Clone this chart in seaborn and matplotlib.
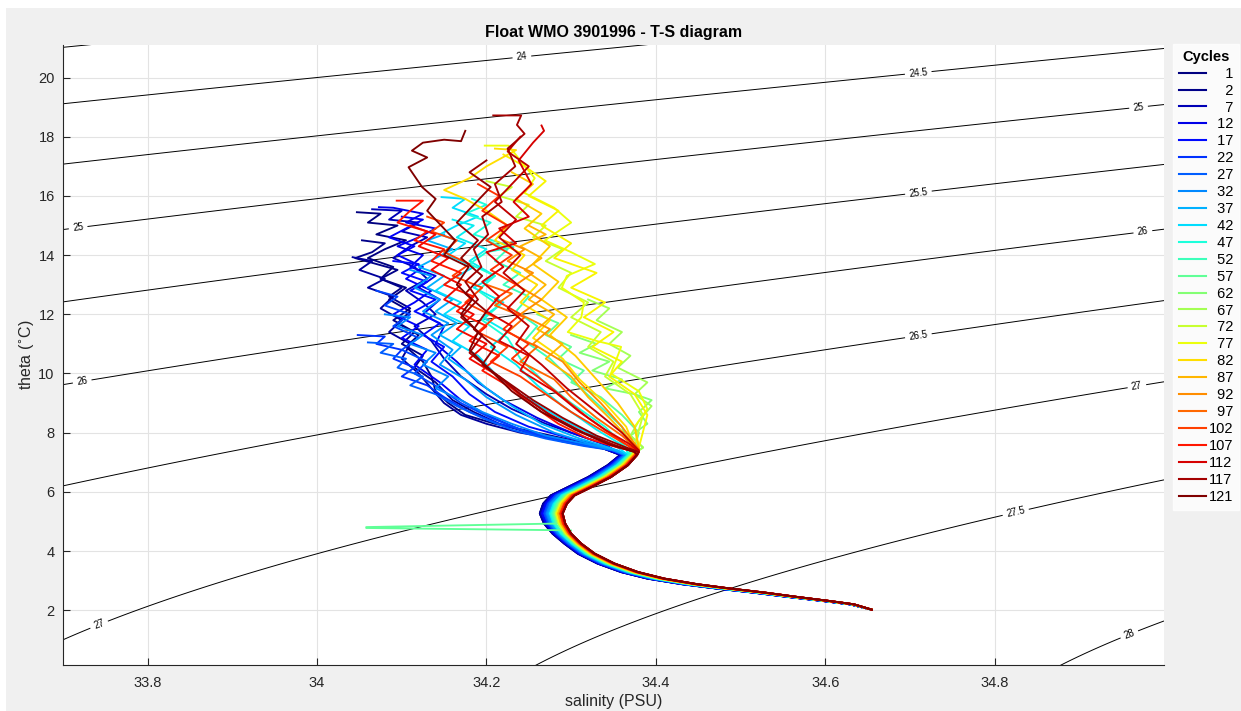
import numpy as np
import pandas as pd
import matplotlib
matplotlib.use("Agg")
import matplotlib.pyplot as plt
from matplotlib.lines import Line2D
from matplotlib.patches import Rectangle
import seaborn as sns

# -------------------- Data --------------------
legend_cycles = [1, 2, 7, 12, 17, 22, 27, 32, 37, 42, 47, 52, 57, 62, 67, 72, 77, 82, 87, 92, 97, 102, 107, 112, 117, 121]
extra_cycles = [4, 14, 24, 34, 44, 79, 84, 104, 109, 114, 119]   # drawn, not in the legend

# upper layer (surface -> ~7.5 degC), one path per cycle: salinity / theta
s_001 = [34.047, 34.075, 34.060, 34.095, 34.070, 34.105, 34.080, 34.060, 34.090, 34.075, 34.105, 34.085, 34.110, 34.095, 34.120, 34.105, 34.125, 34.135, 34.140, 34.155, 34.175, 34.210, 34.260, 34.300, 34.335]
t_001 = [15.45, 15.40, 15.10, 15.00, 14.70, 14.50, 14.20, 13.90, 13.60, 13.20, 12.90, 12.50, 12.10, 11.70, 11.30, 10.90, 10.40, 9.90, 9.40, 9.00, 8.60, 8.30, 8.00, 7.75, 7.50]
s_002 = [34.053, 34.080, 34.065, 34.045, 34.070, 34.095, 34.075, 34.100, 34.085, 34.110, 34.090, 34.115, 34.100, 34.125, 34.115, 34.140, 34.160, 34.185, 34.215, 34.250, 34.290, 34.330]
t_002 = [14.50, 14.40, 14.10, 13.90, 13.70, 13.50, 13.20, 12.90, 12.60, 12.20, 11.80, 11.40, 11.00, 10.60, 10.20, 9.70, 9.10, 8.70, 8.30, 8.00, 7.75, 7.55]
s_004 = [34.042, 34.065, 34.050, 34.080, 34.060, 34.090, 34.075, 34.100, 34.085, 34.110, 34.100, 34.120, 34.135, 34.150, 34.170, 34.200, 34.240, 34.290, 34.335]
t_004 = [13.93, 13.80, 13.50, 13.20, 12.90, 12.60, 12.20, 11.80, 11.40, 11.00, 10.50, 10.00, 9.50, 9.00, 8.60, 8.30, 8.00, 7.75, 7.50]
s_007 = [34.065, 34.100, 34.085, 34.120, 34.100, 34.130, 34.110, 34.090, 34.115, 34.130, 34.105, 34.125, 34.140, 34.115, 34.135, 34.150, 34.170, 34.200, 34.230, 34.270, 34.310, 34.340]
t_007 = [15.55, 15.50, 15.20, 15.10, 14.80, 14.60, 14.30, 13.90, 13.60, 13.20, 12.80, 12.40, 12.00, 11.60, 11.10, 10.50, 9.90, 9.30, 8.80, 8.30, 7.90, 7.60]
s_012 = [34.073, 34.090, 34.125, 34.105, 34.140, 34.120, 34.095, 34.125, 34.110, 34.140, 34.120, 34.145, 34.125, 34.150, 34.140, 34.165, 34.190, 34.220, 34.260, 34.300, 34.340]
t_012 = [15.62, 15.60, 15.40, 15.10, 14.90, 14.60, 14.30, 14.00, 13.60, 13.30, 12.90, 12.50, 12.00, 11.60, 11.00, 10.40, 9.70, 9.10, 8.50, 8.00, 7.60]
s_014 = [34.100, 34.125, 34.105, 34.085, 34.115, 34.095, 34.125, 34.105, 34.135, 34.115, 34.090, 34.120, 34.100, 34.130, 34.115, 34.145, 34.170, 34.200, 34.240, 34.290, 34.340]
t_014 = [15.30, 15.20, 14.90, 14.60, 14.30, 14.00, 13.60, 13.20, 12.80, 12.40, 12.00, 11.60, 11.20, 10.80, 10.30, 9.70, 9.10, 8.60, 8.10, 7.70, 7.45]
s_017 = [34.090, 34.120, 34.100, 34.130, 34.110, 34.140, 34.115, 34.145, 34.125, 34.150, 34.135, 34.160, 34.180, 34.210, 34.250, 34.300, 34.345]
t_017 = [13.80, 13.70, 13.40, 13.10, 12.80, 12.50, 12.10, 11.70, 11.30, 10.90, 10.40, 9.90, 9.30, 8.70, 8.20, 7.80, 7.50]
s_022 = [34.048, 34.080, 34.070, 34.100, 34.090, 34.115, 34.100, 34.130, 34.150, 34.180, 34.215, 34.260, 34.310, 34.345]
t_022 = [11.30, 11.25, 11.00, 10.80, 10.50, 10.20, 9.90, 9.60, 9.20, 8.70, 8.30, 7.95, 7.65, 7.45]
s_024 = [34.070, 34.095, 34.080, 34.110, 34.090, 34.120, 34.100, 34.130, 34.115, 34.145, 34.170, 34.205, 34.250, 34.300, 34.345]
t_024 = [12.80, 12.60, 12.30, 12.00, 11.60, 11.20, 10.80, 10.40, 10.00, 9.50, 9.00, 8.50, 8.00, 7.65, 7.45]
s_027 = [34.060, 34.090, 34.075, 34.105, 34.095, 34.125, 34.110, 34.140, 34.165, 34.195, 34.230, 34.270, 34.315, 34.350]
t_027 = [11.05, 11.00, 10.70, 10.50, 10.20, 9.90, 9.60, 9.30, 8.90, 8.50, 8.10, 7.80, 7.55, 7.40]
s_032 = [34.080, 34.110, 34.095, 34.125, 34.110, 34.140, 34.125, 34.155, 34.140, 34.170, 34.195, 34.230, 34.270, 34.320, 34.350]
t_032 = [12.00, 11.90, 11.60, 11.30, 11.00, 10.70, 10.30, 9.90, 9.50, 9.10, 8.70, 8.30, 7.90, 7.60, 7.40]
s_034 = [34.110, 34.135, 34.115, 34.145, 34.125, 34.155, 34.135, 34.160, 34.145, 34.175, 34.200, 34.235, 34.280, 34.325, 34.355]
t_034 = [13.50, 13.30, 12.90, 12.50, 12.10, 11.70, 11.30, 10.80, 10.30, 9.80, 9.20, 8.60, 8.00, 7.60, 7.40]
s_037 = [34.150, 34.130, 34.160, 34.140, 34.120, 34.150, 34.130, 34.160, 34.140, 34.165, 34.145, 34.170, 34.155, 34.180, 34.200, 34.230, 34.265, 34.310, 34.350]
t_037 = [14.70, 14.50, 14.20, 13.90, 13.60, 13.30, 12.90, 12.50, 12.10, 11.70, 11.30, 10.90, 10.50, 10.00, 9.50, 8.90, 8.30, 7.80, 7.45]
s_042 = [34.147, 34.175, 34.160, 34.190, 34.165, 34.145, 34.175, 34.155, 34.185, 34.160, 34.140, 34.170, 34.150, 34.180, 34.160, 34.190, 34.210, 34.240, 34.280, 34.320, 34.355]
t_042 = [15.96, 15.90, 15.60, 15.30, 15.00, 14.70, 14.40, 14.00, 13.60, 13.20, 12.80, 12.40, 12.00, 11.60, 11.10, 10.60, 10.00, 9.30, 8.60, 8.00, 7.50]
s_044 = [34.160, 34.185, 34.165, 34.200, 34.180, 34.210, 34.185, 34.220, 34.195, 34.225, 34.205, 34.235, 34.260, 34.290, 34.330, 34.365]
t_044 = [15.20, 15.00, 14.60, 14.20, 13.80, 13.30, 12.90, 12.40, 11.90, 11.40, 10.90, 10.30, 9.60, 8.90, 8.10, 7.50]
s_047 = [34.183, 34.200, 34.175, 34.205, 34.185, 34.232, 34.200, 34.180, 34.210, 34.190, 34.215, 34.195, 34.225, 34.240, 34.265, 34.300, 34.340, 34.365]
t_047 = [15.90, 15.70, 15.40, 15.10, 14.70, 14.27, 14.10, 13.70, 13.30, 12.80, 12.30, 11.80, 11.20, 10.50, 9.80, 9.00, 8.20, 7.50]
s_052 = [34.200, 34.225, 34.210, 34.240, 34.220, 34.250, 34.235, 34.260, 34.245, 34.275, 34.300, 34.330, 34.360, 34.370]
t_052 = [14.50, 14.20, 13.80, 13.40, 13.00, 12.60, 12.10, 11.60, 11.10, 10.50, 9.80, 9.00, 8.20, 7.50]
s_057 = [34.260, 34.285, 34.270, 34.300, 34.285, 34.315, 34.300, 34.335, 34.360, 34.380, 34.375]
t_057 = [12.00, 11.70, 11.30, 10.90, 10.50, 10.10, 9.70, 9.20, 8.60, 8.00, 7.50]
s_062 = [34.300, 34.330, 34.310, 34.345, 34.325, 34.360, 34.340, 34.375, 34.395, 34.380, 34.390, 34.370, 34.385]
t_062 = [11.30, 11.00, 10.70, 10.40, 10.10, 9.80, 9.50, 9.30, 9.10, 8.70, 8.30, 7.90, 7.50]
s_067 = [34.320, 34.345, 34.330, 34.360, 34.345, 34.370, 34.355, 34.390, 34.375, 34.395, 34.380, 34.370, 34.385]
t_067 = [12.50, 12.20, 11.80, 11.40, 11.00, 10.60, 10.20, 9.70, 9.30, 8.90, 8.40, 7.90, 7.50]
s_072 = [34.200, 34.230, 34.215, 34.250, 34.235, 34.270, 34.255, 34.290, 34.270, 34.300, 34.285, 34.320, 34.300, 34.335, 34.320, 34.350, 34.340, 34.370, 34.385, 34.375]
t_072 = [16.50, 16.30, 16.00, 15.70, 15.30, 15.00, 14.60, 14.20, 13.80, 13.40, 12.90, 12.40, 11.90, 11.40, 10.90, 10.40, 9.90, 9.30, 8.60, 7.60]
s_077 = [34.198, 34.226, 34.240, 34.257, 34.245, 34.280, 34.300, 34.269, 34.300, 34.328, 34.295, 34.289, 34.315, 34.312, 34.296, 34.330, 34.359, 34.347, 34.380, 34.390, 34.375, 34.380]
t_077 = [17.70, 17.70, 17.20, 16.60, 16.10, 15.60, 15.10, 14.50, 14.10, 13.70, 13.30, 12.90, 12.40, 11.90, 11.40, 11.10, 10.90, 10.00, 9.40, 8.80, 8.20, 7.50]
s_079 = [34.220, 34.245, 34.270, 34.250, 34.285, 34.265, 34.300, 34.280, 34.330, 34.300, 34.340, 34.315, 34.350, 34.325, 34.360, 34.345, 34.375, 34.390, 34.380]
t_079 = [17.40, 17.00, 16.50, 16.00, 15.50, 15.00, 14.40, 13.90, 13.40, 12.90, 12.40, 11.90, 11.40, 10.90, 10.40, 9.90, 9.30, 8.60, 7.50]
s_082 = [34.210, 34.235, 34.200, 34.180, 34.150, 34.175, 34.200, 34.225, 34.210, 34.245, 34.230, 34.260, 34.240, 34.275, 34.255, 34.290, 34.310, 34.340, 34.365, 34.375]
t_082 = [17.60, 17.55, 17.00, 16.60, 16.20, 15.90, 15.50, 15.00, 14.50, 14.00, 13.50, 13.00, 12.40, 11.80, 11.20, 10.50, 9.80, 9.00, 8.20, 7.50]
s_084 = [34.230, 34.255, 34.235, 34.265, 34.245, 34.275, 34.255, 34.285, 34.265, 34.295, 34.275, 34.305, 34.330, 34.355, 34.375, 34.380]
t_084 = [16.80, 16.40, 15.90, 15.40, 14.90, 14.30, 13.70, 13.10, 12.50, 11.90, 11.30, 10.60, 9.80, 9.00, 8.20, 7.45]
s_087 = [34.250, 34.270, 34.240, 34.265, 34.245, 34.270, 34.250, 34.280, 34.260, 34.290, 34.270, 34.300, 34.320, 34.345, 34.365, 34.380]
t_087 = [15.00, 14.70, 14.30, 13.90, 13.50, 13.00, 12.50, 12.00, 11.50, 11.00, 10.50, 9.90, 9.20, 8.50, 7.90, 7.40]
s_092 = [34.220, 34.245, 34.225, 34.255, 34.235, 34.265, 34.240, 34.275, 34.255, 34.290, 34.310, 34.335, 34.360, 34.380]
t_092 = [14.50, 14.20, 13.80, 13.40, 13.00, 12.50, 12.00, 11.50, 11.00, 10.40, 9.70, 9.00, 8.20, 7.45]
s_097 = [34.200, 34.230, 34.210, 34.245, 34.225, 34.260, 34.240, 34.280, 34.300, 34.330, 34.360, 34.380]
t_097 = [13.00, 12.70, 12.30, 11.90, 11.40, 10.90, 10.40, 9.80, 9.20, 8.50, 7.90, 7.40]
s_102 = [34.130, 34.150, 34.135, 34.165, 34.150, 34.180, 34.160, 34.195, 34.175, 34.210, 34.190, 34.225, 34.205, 34.240, 34.270, 34.300, 34.335, 34.365, 34.380]
t_102 = [15.30, 15.10, 14.80, 14.50, 14.10, 13.70, 13.30, 12.90, 12.40, 11.90, 11.40, 10.90, 10.40, 9.90, 9.30, 8.70, 8.10, 7.60, 7.40]
s_104 = [34.190, 34.215, 34.195, 34.225, 34.200, 34.230, 34.205, 34.235, 34.210, 34.240, 34.220, 34.250, 34.230, 34.260, 34.290, 34.320, 34.350, 34.375]
t_104 = [16.40, 16.00, 15.50, 15.00, 14.50, 14.00, 13.50, 13.00, 12.50, 12.00, 11.50, 11.00, 10.50, 9.90, 9.20, 8.50, 7.90, 7.40]
s_107 = [34.094, 34.125, 34.110, 34.095, 34.130, 34.115, 34.150, 34.135, 34.170, 34.150, 34.185, 34.165, 34.200, 34.180, 34.215, 34.195, 34.230, 34.255, 34.285, 34.320, 34.355, 34.380]
t_107 = [15.84, 15.84, 15.50, 15.10, 14.80, 14.50, 14.20, 13.80, 13.40, 13.00, 12.60, 12.10, 11.60, 11.10, 10.60, 10.10, 9.50, 8.90, 8.30, 7.80, 7.50, 7.35]
s_109 = [34.110, 34.140, 34.120, 34.155, 34.135, 34.170, 34.150, 34.185, 34.165, 34.200, 34.180, 34.215, 34.240, 34.270, 34.305, 34.345, 34.375]
t_109 = [15.00, 14.70, 14.30, 13.90, 13.50, 13.00, 12.50, 12.00, 11.50, 11.00, 10.50, 9.90, 9.30, 8.70, 8.10, 7.60, 7.35]
s_112 = [34.265, 34.268, 34.255, 34.238, 34.253, 34.232, 34.250, 34.215, 34.235, 34.200, 34.220, 34.195, 34.215, 34.200, 34.230, 34.215, 34.250, 34.240, 34.280, 34.310, 34.340, 34.370, 34.380]
t_112 = [18.38, 18.20, 17.80, 17.20, 16.40, 15.80, 15.30, 14.90, 14.40, 14.10, 13.60, 13.10, 12.60, 12.10, 11.60, 11.10, 10.60, 10.10, 9.40, 8.70, 8.10, 7.60, 7.35]
s_114 = [34.240, 34.225, 34.250, 34.230, 34.210, 34.235, 34.215, 34.240, 34.220, 34.245, 34.225, 34.250, 34.235, 34.265, 34.295, 34.330, 34.360, 34.380]
t_114 = [18.00, 17.50, 17.00, 16.40, 15.80, 15.20, 14.60, 14.00, 13.40, 12.80, 12.20, 11.60, 11.00, 10.30, 9.50, 8.70, 8.00, 7.40]
s_117 = [34.208, 34.241, 34.236, 34.245, 34.225, 34.234, 34.210, 34.218, 34.195, 34.202, 34.185, 34.194, 34.175, 34.190, 34.170, 34.195, 34.180, 34.210, 34.240, 34.275, 34.315, 34.350, 34.375]
t_117 = [18.72, 18.72, 18.40, 18.10, 17.60, 17.00, 16.40, 15.80, 15.30, 14.70, 14.20, 13.60, 13.10, 12.50, 11.90, 11.30, 10.70, 10.00, 9.30, 8.60, 8.00, 7.60, 7.35]
s_119 = [34.200, 34.180, 34.205, 34.185, 34.165, 34.190, 34.170, 34.195, 34.175, 34.200, 34.185, 34.210, 34.195, 34.225, 34.255, 34.290, 34.330, 34.365, 34.380]
t_119 = [17.20, 16.80, 16.30, 15.70, 15.10, 14.50, 13.90, 13.30, 12.70, 12.10, 11.50, 10.90, 10.30, 9.70, 9.10, 8.50, 7.90, 7.50, 7.35]
s_121 = [34.175, 34.170, 34.150, 34.125, 34.112, 34.130, 34.108, 34.124, 34.140, 34.130, 34.163, 34.150, 34.179, 34.165, 34.183, 34.170, 34.190, 34.180, 34.205, 34.230, 34.265, 34.305, 34.345, 34.375]
t_121 = [18.20, 17.85, 17.90, 17.80, 17.53, 17.30, 16.97, 16.30, 15.90, 15.50, 14.50, 14.00, 13.60, 13.00, 12.50, 12.00, 11.40, 10.80, 10.10, 9.40, 8.70, 8.10, 7.60, 7.35]

# deep layer shared by all cycles (late cycles), plus the shift of the early cycles
deep_theta = [7.25, 6.90, 6.50, 6.16, 5.88, 5.60, 5.27, 4.93, 4.59, 4.25, 3.91, 3.58, 3.29, 3.07, 2.88, 2.73, 2.60, 2.45, 2.31, 2.20, 2.02]
deep_sal = [34.378, 34.367, 34.347, 34.324, 34.304, 34.295, 34.290, 34.293, 34.300, 34.312, 34.328, 34.351, 34.379, 34.410, 34.449, 34.489, 34.528, 34.567, 34.606, 34.634, 34.655]
deep_shift = [-0.020, -0.024, -0.027, -0.028, -0.028, -0.028, -0.027, -0.025, -0.022, -0.020, -0.020, -0.020, -0.020, -0.020, -0.018, -0.016, -0.014, -0.011, -0.008, -0.005, 0.0]
# fraction of that shift per cycle (blue cycles sit left of red ones in the bend)
frac_cycles = [1, 2, 4, 7, 12, 14, 17, 22, 24, 27, 32, 34, 37, 42, 44, 47, 52, 57, 62, 67, 72, 77, 79, 82, 84, 87, 92, 97, 102, 104, 107, 109, 112, 114, 117, 119, 121]
frac_values = [1.0, 1.0, 1.0, 0.95, 0.9, 0.9, 0.85, 0.8, 0.8, 0.75, 0.7, 0.65, 0.6, 0.55, 0.55, 0.5, 0.45, 0.4, 0.35, 0.3, 0.3, 0.25, 0.25, 0.2, 0.2, 0.2, 0.15, 0.1, 0.1, 0.1, 0.05, 0.05, 0.0, 0.0, 0.0, 0.0, 0.0]

# cycle 57 has a spike near 4.8 degC
spike_cycle = 57
spike_sal = [34.058, 34.058, 34.300]
spike_theta = [4.81, 4.78, 4.70]

# density contour levels and label positions
sigma_levels = [23.5, 24, 24.5, 25, 25.5, 26, 26.5, 27, 27.5, 28]
label_sal = [34.242, 34.710, 34.970, 34.710, 34.975, 34.710, 34.968, 34.825, 34.959, 33.718, 33.723, 33.739]
label_theta = [20.64, 20.10, 18.98, 16.12, 14.80, 11.27, 9.57, 5.30, 1.19, 14.90, 9.67, 1.79]

upper = {1: (s_001, t_001), 2: (s_002, t_002), 4: (s_004, t_004), 7: (s_007, t_007),
         12: (s_012, t_012), 14: (s_014, t_014), 17: (s_017, t_017), 22: (s_022, t_022),
         24: (s_024, t_024), 27: (s_027, t_027), 32: (s_032, t_032), 34: (s_034, t_034),
         37: (s_037, t_037), 42: (s_042, t_042), 44: (s_044, t_044), 47: (s_047, t_047),
         52: (s_052, t_052), 57: (s_057, t_057), 62: (s_062, t_062), 67: (s_067, t_067),
         72: (s_072, t_072), 77: (s_077, t_077), 79: (s_079, t_079), 82: (s_082, t_082),
         84: (s_084, t_084), 87: (s_087, t_087), 92: (s_092, t_092), 97: (s_097, t_097),
         102: (s_102, t_102), 104: (s_104, t_104), 107: (s_107, t_107), 109: (s_109, t_109),
         112: (s_112, t_112), 114: (s_114, t_114), 117: (s_117, t_117), 119: (s_119, t_119),
         121: (s_121, t_121)}

# -------------------- Build long table --------------------
frames = []
for cyc, frac in zip(frac_cycles, frac_values):
    s_up, t_up = upper[cyc]
    s_deep = [s + frac * d for s, d in zip(deep_sal, deep_shift)]
    t_deep = list(deep_theta)
    if cyc == spike_cycle:
        k = deep_theta.index(4.93) + 1
        s_deep = s_deep[:k] + spike_sal + s_deep[k:]
        t_deep = t_deep[:k] + spike_theta + t_deep[k:]
    frames.append(pd.DataFrame({"cycle": cyc, "salinity": s_up + s_deep, "theta": t_up + t_deep}))
df = pd.concat(frames, ignore_index=True)

jet = plt.get_cmap("jet")
palette = {c: jet((c - 1) / 120) for c in frac_cycles}

# -------------------- Sigma-theta grid (UNESCO EOS-80, p=0) --------------------
def sigma0(S, T):
    rw = (999.842594 + 6.793952e-2 * T - 9.095290e-3 * T**2 + 1.001685e-4 * T**3
          - 1.120083e-6 * T**4 + 6.536332e-9 * T**5)
    r = (rw + S * (0.824493 - 4.0899e-3 * T + 7.6438e-5 * T**2 - 8.2467e-7 * T**3 + 5.3875e-9 * T**4)
         + S**1.5 * (-5.72466e-3 + 1.0227e-4 * T - 1.6546e-6 * T**2) + 4.8314e-4 * S**2)
    return r - 1000

sg, tg = np.meshgrid(np.linspace(33.7, 35.0, 200), np.linspace(0.0, 21.5, 200))
sig = sigma0(sg, tg)

# -------------------- Plot --------------------
plt.rcParams["font.family"] = ["Liberation Sans", "DejaVu Sans"]
fig = plt.figure(figsize=(12.41, 7.11), dpi=100, facecolor="white")
fig.patches.append(Rectangle((6 / 1241, 0), 1, 1 - 8 / 711, transform=fig.transFigure,
                             facecolor="#f0f0f0", edgecolor="none", zorder=-5))
ax = fig.add_axes([63 / 1241, 1 - 665 / 711, (1164 - 63) / 1241, (665 - 45) / 711])
ax.set_facecolor("white")

cs = ax.contour(sg, tg, sig, levels=sigma_levels, colors="black", linewidths=0.7, zorder=1)
ax.clabel(cs, fmt=lambda v: f"{v:g}", fontsize=7, inline=True, inline_spacing=4,
          manual=list(zip(label_sal, label_theta)))

sns.lineplot(data=df, x="salinity", y="theta", hue="cycle", palette=palette, sort=False,
             estimator=None, legend=False, linewidth=1.35, ax=ax, zorder=3)

ax.set_xlim(33.7, 35.0)
ax.set_ylim(0.15, 21.1)
ax.set_xticks([33.8, 34.0, 34.2, 34.4, 34.6, 34.8])
ax.set_xticklabels(["33.8", "34", "34.2", "34.4", "34.6", "34.8"])
ax.set_yticks(range(2, 21, 2))
ax.grid(True, color="#e3e3e3", linewidth=0.8)
ax.set_axisbelow(True)
for side in ["top", "right"]:
    ax.spines[side].set_visible(False)
for side in ["left", "bottom"]:
    ax.spines[side].set_color("#262626")
    ax.spines[side].set_linewidth(0.8)
ax.tick_params(direction="in", length=5, labelsize=10.5, colors="#262626", pad=8)
ax.tick_params(axis="y", pad=6)
ax.set_xlabel("salinity (PSU)", fontsize=11.5, color="#262626", labelpad=3)
ax.set_ylabel("theta ($^{\\circ}$C)", fontsize=11.5, color="#262626", labelpad=2)
ax.set_title("Float WMO 3901996 - T-S diagram", fontsize=11.5, fontweight="bold", pad=6)

handles = [Line2D([0], [0], color=palette[c], lw=1.5) for c in legend_cycles]
labels = [f"{c:>3d}".replace(" ", "\u2007") for c in legend_cycles]
leg = fig.legend(handles, labels, title="Cycles", loc="upper left",
                 bbox_to_anchor=(1173 / 1241, 1 - 44 / 711), borderaxespad=0, fontsize=10.5,
                 title_fontproperties={"weight": "bold", "size": 10.5},
                 handlelength=1.85, handletextpad=0.2, labelspacing=0.2,
                 borderpad=0.4, frameon=True, fancybox=False)
leg.get_frame().set_edgecolor("white")
leg.get_frame().set_facecolor("white")

fig.savefig("out.png", dpi=100, facecolor=fig.get_facecolor())
